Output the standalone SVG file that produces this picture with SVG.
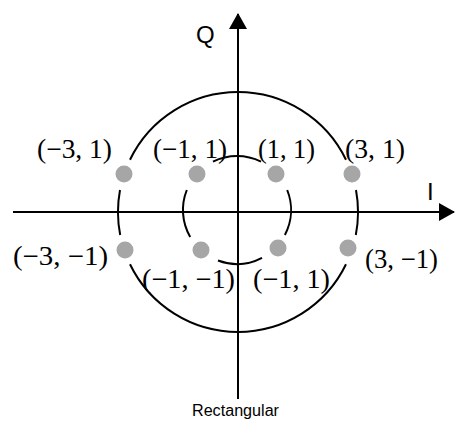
<svg xmlns="http://www.w3.org/2000/svg" width="469" height="441" viewBox="0 0 469 441">
  <style>
    .arc { fill: none; stroke: #000; stroke-width: 2; }
    .axis { fill: none; stroke: #000; stroke-width: 2; }
    .dot { fill: #a6a6a6; }
    .lbl { font-family: "Liberation Serif", "Times New Roman", serif; font-size: 27px; fill: #000; }
    .ax { font-family: "Liberation Sans", Arial, sans-serif; font-size: 24px; fill: #000; }
    .cap { font-family: "Liberation Sans", Arial, sans-serif; font-size: 16px; fill: #000; }
  </style>
  <defs>
    <marker id="arr" viewBox="0 0 16 18" refX="15" refY="9" markerWidth="16" markerHeight="18" markerUnits="userSpaceOnUse" orient="auto">
      <path d="M0,0 L16,9 L0,18 Z" fill="#000"/>
    </marker>
  </defs>
  <rect width="469" height="441" fill="#fff"/>

  <g id="circles">
    <path class="arc" d="M130,159.7 A120,120 0 0 1 346,159.7"/>
    <path class="arc" d="M120,190 A120,120 0 0 0 120.2,235"/>
    <path class="arc" d="M356,190 A120,120 0 0 1 355.8,235"/>
    <path class="arc" d="M130,264.3 A120,120 0 0 0 346,264.3"/>
    <path class="arc" d="M213,161.6 A54,54 0 0 1 261,161.6"/>
    <path class="arc" d="M186.8,190 A54,54 0 0 0 190.2,237"/>
    <path class="arc" d="M287.2,190 A54,54 0 0 1 284.9,235"/>
    <path class="arc" d="M218,260.5 A54,54 0 0 0 262,257.9"/>
  </g>

  <g id="connectors">
    <line class="axis" x1="13" y1="212" x2="454" y2="212" marker-end="url(#arr)"/>
    <line class="axis" x1="238" y1="399" x2="238" y2="14" marker-end="url(#arr)"/>
  </g>

  <g id="axis-labels">
    <text class="ax" x="196" y="43">Q</text>
    <text class="ax" x="427" y="200">I</text>
    <text class="cap" x="192" y="416" textLength="87" lengthAdjust="spacingAndGlyphs">Rectangular</text>
  </g>

  <g id="p-m3-1">
    <circle class="dot" cx="124" cy="174" r="8.5"/>
    <text class="lbl" x="37" y="158" textLength="75" lengthAdjust="spacingAndGlyphs">(−3, 1)</text>
  </g>
  <g id="p-m1-1">
    <circle class="dot" cx="197" cy="174" r="8.5"/>
    <text class="lbl" x="153" y="158" textLength="74" lengthAdjust="spacingAndGlyphs">(−1, 1)</text>
  </g>
  <g id="p-1-1">
    <circle class="dot" cx="276" cy="174" r="8.5"/>
    <text class="lbl" x="258" y="158" textLength="57" lengthAdjust="spacingAndGlyphs">(1, 1)</text>
  </g>
  <g id="p-3-1">
    <circle class="dot" cx="352" cy="174" r="8.5"/>
    <text class="lbl" x="345" y="158" textLength="60" lengthAdjust="spacingAndGlyphs">(3, 1)</text>
  </g>
  <g id="p-m3-m1">
    <circle class="dot" cx="125" cy="250" r="8.5"/>
    <text class="lbl" x="13" y="265" textLength="95" lengthAdjust="spacingAndGlyphs">(−3, −1)</text>
  </g>
  <g id="p-m1-m1">
    <circle class="dot" cx="201" cy="250" r="8.5"/>
    <text class="lbl" x="142" y="288" textLength="93" lengthAdjust="spacingAndGlyphs">(−1, −1)</text>
  </g>
  <g id="p-1-m1">
    <circle class="dot" cx="278" cy="248" r="8.5"/>
    <text class="lbl" x="253" y="288" textLength="77" lengthAdjust="spacingAndGlyphs">(−1, 1)</text>
  </g>
  <g id="p-3-m1">
    <circle class="dot" cx="348" cy="248" r="8.5"/>
    <text class="lbl" x="365" y="268" textLength="73" lengthAdjust="spacingAndGlyphs">(3, −1)</text>
  </g>
</svg>
